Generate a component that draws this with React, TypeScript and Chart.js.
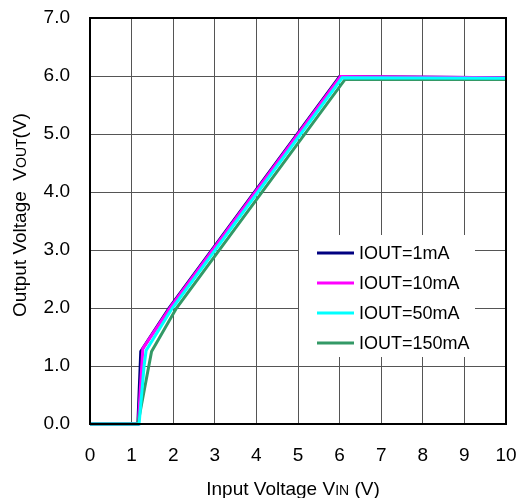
import React, { useEffect, useRef } from "react";
import { Chart, registerables } from "chart.js";

Chart.register(...registerables);

const seriesNames = ["IOUT=1mA", "IOUT=10mA", "IOUT=50mA", "IOUT=150mA"];
const seriesColors = ["#000080", "#FF00FF", "#00FFFF", "#339966"];

const vin1mA = [0, 1.15, 1.22, 1.9, 6.0, 10];
const vout1mA = [0, 0, 1.25, 2.0, 5.99, 5.97];
const vin10mA = [0, 1.16, 1.27, 1.94, 6.02, 10];
const vout10mA = [0, 0, 1.3, 2.02, 5.99, 5.97];
const vin50mA = [0, 1.18, 1.3, 1.35, 1.98, 6.06, 10];
const vout50mA = [0, 0, 1.0, 1.27, 2.0, 5.97, 5.96];
const vin150mA = [0, 1.15, 1.48, 2.08, 6.13, 10];
const vout150mA = [0, 0, 1.25, 2.0, 5.94, 5.94];

const xTicks = [0, 1, 2, 3, 4, 5, 6, 7, 8, 9, 10];
const yTicks = [0, 1, 2, 3, 4, 5, 6, 7];

const FONT = "'Liberation Sans', Arial, sans-serif";

const toPts = (xs: number[], ys: number[]) => xs.map((x, i) => ({ x, y: ys[i] }));

const decorPlugin = {
  id: "decor",
  afterDatasetsDraw(chart: any) {
    const ctx = chart.ctx as CanvasRenderingContext2D;
    const a = chart.chartArea;
    ctx.save();
    ctx.strokeStyle = "#000";
    ctx.lineWidth = 2;
    ctx.strokeRect(a.left, a.top, a.right - a.left, a.bottom - a.top);

    const lx = 299, ly = 235, lw = 176, lh = 122;
    ctx.fillStyle = "#fff";
    ctx.fillRect(lx, ly, lw, lh);
    const rows = [253, 283, 313, 343];
    ctx.font = `18px ${FONT}`;
    ctx.textBaseline = "middle";
    ctx.textAlign = "left";
    seriesNames.forEach((name, i) => {
      ctx.strokeStyle = seriesColors[i];
      ctx.lineWidth = 3;
      ctx.beginPath();
      ctx.moveTo(317, rows[i]);
      ctx.lineTo(354, rows[i]);
      ctx.stroke();
      ctx.fillStyle = "#000";
      ctx.fillText(name, 359, rows[i] + 1);
    });

    const drawMixed = (parts: [string, number][], cx: number, baseY: number) => {
      let total = 0;
      const widths = parts.map(([t, s]) => {
        ctx.font = `${s}px ${FONT}`;
        const w = ctx.measureText(t).width;
        total += w;
        return w;
      });
      let x = cx - total / 2;
      ctx.textBaseline = "alphabetic";
      ctx.textAlign = "left";
      ctx.fillStyle = "#000";
      parts.forEach(([t, s], i) => {
        ctx.font = `${s}px ${FONT}`;
        ctx.fillText(t, x, baseY);
        x += widths[i];
      });
    };
    drawMixed([["Input Voltage V", 19], ["IN", 14], [" (V)", 19]], 293, 495);
    ctx.save();
    ctx.translate(26, 215);
    ctx.rotate(-Math.PI / 2);
    drawMixed([["Output Voltage  V", 19], ["OUT", 14], ["(V)", 19]], 0, 0);
    ctx.restore();
    ctx.restore();
  },
};

export default function App() {
  const ref = useRef<HTMLCanvasElement | null>(null);
  useEffect(() => {
    if (!ref.current) return;
    const allX = [vin1mA, vin10mA, vin50mA, vin150mA];
    const allY = [vout1mA, vout10mA, vout50mA, vout150mA];
    const drawOrder = [3, 2, 0, 1];
    const chart = new Chart(ref.current, {
      type: "line",
      data: {
        datasets: seriesNames.map((name, i) => ({
          label: name,
          data: toPts(allX[i], allY[i]),
          borderColor: seriesColors[i],
          backgroundColor: seriesColors[i],
          borderWidth: 3,
          pointRadius: 0,
          tension: 0,
          fill: false,
          clip: false as any,
          order: drawOrder[i],
        })),
      },
      options: {
        animation: false,
        responsive: false,
        layout: { padding: { left: 0, top: 18, right: 17, bottom: 0 } },
        plugins: { legend: { display: false }, tooltip: { enabled: false } },
        scales: {
          x: {
            type: "linear",
            min: 0,
            max: 10,
            afterFit: (s: any) => {
              s.height = 74;
              s.paddingLeft = 0;
              s.paddingRight = 0;
            },
            afterBuildTicks: (s: any) => { s.ticks = xTicks.map((v) => ({ value: v })); },
            grid: { color: "#555", lineWidth: 1, drawTicks: false },
            border: { display: false },
            ticks: { color: "#000", font: { family: FONT, size: 19 }, padding: 20, maxRotation: 0 },
          },
          y: {
            type: "linear",
            min: 0,
            max: 7,
            afterFit: (s: any) => {
              s.width = 90;
              s.paddingTop = 0;
              s.paddingBottom = 0;
            },
            afterBuildTicks: (s: any) => { s.ticks = yTicks.map((v) => ({ value: v })); },
            grid: { color: "#555", lineWidth: 1, drawTicks: false },
            border: { display: false },
            ticks: {
              color: "#000",
              font: { family: FONT, size: 19 },
              padding: 20,
              callback: (v: any) => Number(v).toFixed(1),
            },
          },
        },
      },
      plugins: [decorPlugin],
    });
    return () => chart.destroy();
  }, []);
  return (
    <div style={{ position: "absolute", left: 0, top: 0, width: 523, height: 498 }}>
      <canvas ref={ref} width={523} height={498} style={{ display: "block" }} />
    </div>
  );
}
